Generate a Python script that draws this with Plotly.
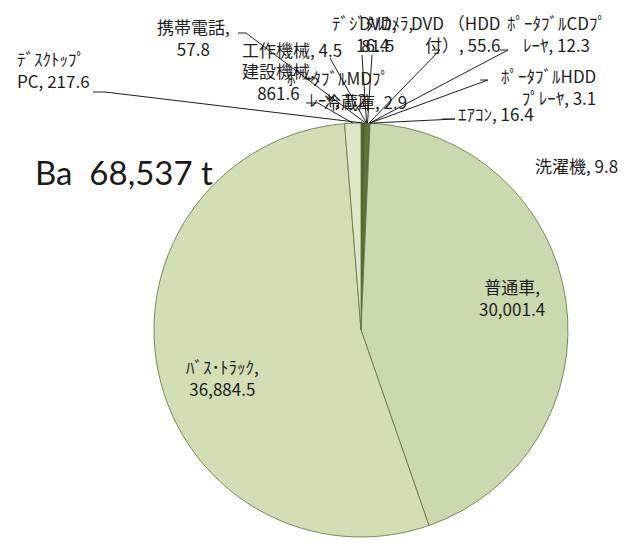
import math
import plotly.graph_objects as go

# Ba content by product (t), clockwise from 12 o'clock
names = [
    "ﾃﾞｽｸﾄｯﾌﾟPC", "携帯電話", "工作機械", "ﾎﾟｰﾀﾌﾞﾙMDﾌﾟﾚｰﾔ", "冷蔵庫",
    "ﾃﾞｼﾞﾀﾙｶﾒﾗ", "DVD", "DVD （HDD付）", "ﾎﾟｰﾀﾌﾞﾙCDﾌﾟﾚｰﾔ",
    "ﾎﾟｰﾀﾌﾞﾙHDDﾌﾟﾚｰﾔ", "ｴｱｺﾝ", "洗濯機", "普通車", "ﾊﾞｽ･ﾄﾗｯｸ", "建設機械",
]
values = [
    217.6, 57.8, 4.5, 1.2, 2.9,
    16.4, 81.5, 55.6, 12.3,
    3.1, 16.4, 9.8, 30001.4, 36884.5, 861.6,
]
total_label = "Ba\u00a0 68,537 t"

slice_colors = [
    "#4f6228", "#5e7430", "#6f8a38", "#3f4f20", "#566b2c",
    "#4a5c26", "#6a8436", "#55692b", "#46582a",
    "#61782f", "#4f6228", "#5a6f2e", "#cbdaae", "#d2dfb5", "#dde8c8",
]

W, H = 630, 543
CX, CY, R = 361, 330, 207   # pie centre / radius in pixels


def px(x):
    return x / W


def py(y):
    return 1 - y / H


# label placement: (x, y_top, xanchor, break index or None, leader start or None)
label_layout = {
    "ﾃﾞｽｸﾄｯﾌﾟPC":        (15, 44, "left", 8, [(93, 92), (105, 92)]),
    "携帯電話":           (193, 12, "center", 5, [(238, 33), (246, 33)]),
    "工作機械":           (240, 35, "left", None, [(330, 58)]),
    "ﾎﾟｰﾀﾌﾞﾙMDﾌﾟﾚｰﾔ":    (338, 63, "center", 11, None),
    "冷蔵庫":             (322, 87, "left", None, None),
    "ﾃﾞｼﾞﾀﾙｶﾒﾗ":          (372, 8, "center", 10, [(362, 55)]),
    "DVD":               (378, 8, "center", 4, [(372, 55)]),
    "DVD （HDD付）":      (503, 8, "right", 8, [(432, 50), (440, 50)]),
    "ﾎﾟｰﾀﾌﾞﾙCDﾌﾟﾚｰﾔ":    (556, 8, "center", 11, [(500, 50), (508, 50)]),
    "ﾎﾟｰﾀﾌﾞﾙHDDﾌﾟﾚｰﾔ":   (598, 61, "right", 10, [(480, 80), (488, 80)]),
    "ｴｱｺﾝ":               (456, 99, "left", None, [(442, 119), (455, 119)]),
    "洗濯機":             (576, 151, "center", None, None),
    "普通車":             (512, 272, "center", 4, None),
    "ﾊﾞｽ･ﾄﾗｯｸ":           (222, 352, "center", 9, None),
    "建設機械":           (278, 56, "center", 5, [(306, 103), (318, 103)]),
}

fig = go.Figure()
fig.add_trace(go.Pie(
    labels=names,
    values=values,
    sort=False,
    direction="clockwise",
    rotation=0,
    textinfo="none",
    hoverinfo="label+value",
    showlegend=False,
    marker=dict(colors=slice_colors, line=dict(color="#5f6e3e", width=0.8)),
    domain=dict(x=[px(CX - R), px(CX + R)], y=[py(CY + R), py(CY - R)]),
))

annotations = []
shapes = []
total = sum(values)
cum = 0.0
font = dict(family="Noto Sans CJK JP, sans-serif", size=17, color="#1e1e1e")
for name, val in zip(names, values):
    mid = (cum + val / 2) / total
    cum += val
    x0, y0, anchor, brk, leader = label_layout[name]
    text = f"{name}, {val:,.1f}"
    if brk is not None:
        text = text[:brk] + "<br>" + text[brk:].lstrip()
    annotations.append(dict(
        x=px(x0), y=py(y0), xref="paper", yref="paper",
        xanchor=anchor, yanchor="top", align=anchor,
        text=text, showarrow=False, font=font,
    ))
    if leader:
        theta = 2 * math.pi * mid
        ex = CX + R * math.sin(theta)
        ey = CY - R * math.cos(theta)
        pts = leader + [(ex, ey)]
        path = "M " + " L ".join(f"{px(a):.5f},{py(b):.5f}" for a, b in pts)
        shapes.append(dict(type="path", path=path, xref="paper", yref="paper",
                           line=dict(color="#1e1e1e", width=1)))

annotations.append(dict(
    x=px(33), y=py(172), xref="paper", yref="paper", xanchor="left", yanchor="middle",
    text=total_label, showarrow=False,
    font=dict(family="Lato, Open Sans, sans-serif", size=33, color="#1a1a1a"),
))

fig.update_layout(
    width=W, height=H,
    margin=dict(l=0, r=0, t=0, b=0),
    paper_bgcolor="white",
    plot_bgcolor="white",
    annotations=annotations,
    shapes=shapes,
)

fig.write_html("out.html")
